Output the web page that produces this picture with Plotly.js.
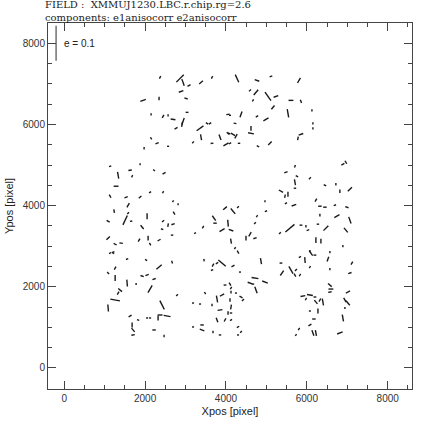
<!DOCTYPE html>
<html>
<head>
<meta charset="utf-8">
<script src="https://cdn.plot.ly/plotly-3.0.1.min.js"></script>
<style>
  html, body { margin: 0; padding: 0; background: #fff; }
  #chart { width: 436px; height: 436px; }
</style>
</head>
<body>
<div id="chart"></div>
<script>
// stick positions (pixel coords on the chip mosaic)
const xpos = [
  2371,2865,2939,3087,3384,3656,2890,3013,1951,2346,2149,2445,2569,2692,2939,2915,3038,2766,3359,3532,3606,4051,2149,2297,2569,1976,3186,3384,3656,3853,4001,4051,
  4273,4767,5113,5805,4594,4742,5039,5236,4668,5607,5854,5162,5533,6126,4372,4100,4767,4989,4224,6150,6150,4174,4248,4076,4619,4619,5854,5780,4100,4323,4792,5088,
  1136,1877,1334,1630,2223,2470,1680,1284,1136,1531,1877,2124,2445,1581,1235,1581,1507,1087,1655,2050,1927,2445,2569,2692,2421,2717,2692,2816,1087,1260,1408,1852,2075,2346,2668,2124,3236,3433,3705,3730,3903,3977,4051,1210,
  5706,5483,5755,6076,5706,5706,5360,5533,5459,5483,5681,6447,6718,6817,7064,6891,6965,6224,6323,6447,6694,6990,6323,6743,7064,4174,4298,4965,4989,4767,4718,4125,4594,4495,4718,5335,5582,5854,5977,6027,6274,6471,6965,4125,4224,6224,6348,6891,6076,
  1136,1210,1556,2025,2346,2668,1087,1260,1260,1556,1927,2050,2223,1778,1383,1334,2124,1260,1087,2791,2421,2371,2544,2322,1630,1828,2050,2124,1680,1704,2223,2470,1704,3458,3680,3779,3903,3656,3483,3779,3903,3977,3186,3359,3656,3853,3779,3977,3409,3409,3186,3680,3853,4051,
  4298,4174,4347,4866,5360,5829,5953,6101,6200,6076,5730,5706,5829,5607,5385,6570,6521,6570,7114,7064,4718,4965,4594,4668,4742,4100,4125,4125,4248,4372,4421,4100,4125,4125,4125,5903,6076,6200,5977,6224,6323,6397,6076,6274,6570,6595,6570,7015,6941,7015,6941,6891,6175,6076,5805,5730,6150,6224,6817,4298,4372,4298
];
const ypos = [
  7159,7134,7036,6962,7036,7159,6814,6642,6593,6642,6248,6199,6224,6125,6076,6002,6298,5904,5904,6027,6027,6248,5658,5535,5461,5412,5560,5683,5535,5683,5510,5781,
  7134,7085,7183,7085,6839,6790,6691,6691,6593,6593,6568,6421,6273,6347,6248,6224,6199,6125,6027,6027,5904,5756,5707,5781,5904,5781,5756,5658,5535,5535,5461,5535,
  4969,5018,4748,4871,4871,4797,4723,4477,4231,4207,4207,4330,4330,4010,3862,3813,3641,3616,3616,3739,3469,3616,3518,3542,3419,3813,4108,4034,3198,3050,3075,3149,3198,3149,3272,3050,3321,3469,3690,3567,3395,3936,3567,2854,
  4969,4822,4723,4674,4576,4428,4354,4280,4231,4059,4010,4502,4526,4354,4403,5018,5068,4133,3985,3961,4010,3961,3764,3739,3641,3862,3961,4108,3862,3739,3567,3395,3296,3198,3198,3321,3444,3518,3493,3395,3542,3444,3395,3124,2952,3149,3124,3001,2878,
  2829,2829,2681,2657,2485,2608,2337,2460,2214,2091,2263,2288,2189,2066,1919,1845,1943,1673,1476,1796,1550,1304,1279,1230,1279,1181,1230,1230,1058,935,935,787,812,2657,2534,2583,2583,2411,1845,1697,1796,2042,1599,1574,1550,1427,1181,1181,1058,935,1009,886,812,1353,
  2854,2509,2362,2632,2583,2731,2657,2829,2780,2485,2411,2288,2288,2411,2337,2854,2681,2435,2583,2337,2214,2116,2091,2066,1919,2066,1968,1870,1845,1747,1673,1673,1501,1353,1181,1771,1796,1747,1697,1624,1673,1624,1402,1402,2042,1943,1870,1870,1673,1599,1476,1230,1205,1058,959,812,861,861,861,1009,886,812
];
// ellipticity modulus and orientation (deg) from e1anisocorr / e2anisocorr
const emod = [
  .008,.03,.02,.01,.014,.008,.014,.01,.017,.01,.007,.01,.007,.014,.02,.014,.008,.01,.024,.008,.008,.01,.007,.01,.006,.007,.007,.017,.008,.017,.017,.01,
  .024,.014,.008,.017,.008,.02,.03,.014,.007,.014,.01,.014,.024,.007,.017,.006,.008,.017,.008,.006,.006,.014,.014,.008,.014,.017,.014,.01,.008,.007,.008,.014,
  .007,.006,.02,.01,.007,.01,.007,.014,.01,.01,.01,.007,.007,.014,.01,.007,.03,.01,.007,.017,.014,.008,.01,.01,.007,.01,.006,.006,.014,.01,.01,.01,.014,.01,.007,.008,.006,.008,.017,.01,.017,.014,.02,.008,
  .008,.01,.008,.008,.017,.007,.014,.014,.01,.007,.014,.008,.007,.01,.017,.01,.01,.01,.01,.01,.007,.01,.008,.017,.02,.02,.007,.006,.007,.007,.007,.014,.014,.014,.01,.007,.034,.008,.007,.008,.007,.02,.017,.014,.007,.017,.014,.006,.006,
  .007,.007,.007,.007,.02,.008,.008,.01,.017,.02,.01,.01,.01,.006,.014,.01,.024,.028,.02,.007,.028,.014,.02,.014,.01,.007,.006,.006,.014,.014,.01,.007,.01,.007,.01,.008,.028,.007,.007,.02,.014,.008,.006,.006,.007,.014,.014,.01,.01,.014,.006,.007,.007,.01,
  .01,.01,.006,.017,.008,.007,.017,.017,.008,.007,.008,.01,.008,.024,.017,.006,.014,.007,.01,.01,.02,.017,.014,.007,.02,.01,.008,.008,.006,.01,.008,.01,.014,.007,.007,.014,.017,.008,.008,.014,.01,.02,.006,.014,.014,.014,.01,.014,.014,.017,.006,.02,.01,.01,.008,.006,.017,.017,.017,.008,.007,.006
];
const theta = [
  60,45,110,30,40,60,20,160,20,90,90,60,90,170,70,80,0,30,35,150,30,10,120,20,0,90,45,100,10,110,30,140,
  115,160,20,60,45,50,125,20,60,0,110,50,100,90,70,0,30,30,170,90,90,150,60,160,90,170,20,80,30,0,150,45,
  20,90,100,10,135,30,60,0,120,20,40,30,60,60,100,45,65,150,10,90,130,40,80,20,160,120,60,90,45,150,170,60,90,30,0,120,30,60,125,0,30,40,95,20,
  70,20,150,45,100,0,150,90,80,30,20,150,90,90,45,30,120,60,0,0,20,160,90,30,110,130,45,90,20,60,45,160,60,90,20,45,40,0,90,20,0,45,130,100,60,90,90,90,90,
  30,150,20,150,40,110,130,60,90,95,160,20,20,90,140,60,60,170,95,45,117,0,170,90,30,160,0,0,90,130,0,90,10,100,60,30,140,20,120,100,30,0,0,0,90,10,110,60,0,160,0,90,0,90,
  120,30,0,100,0,30,95,125,0,60,45,120,60,120,55,90,70,90,60,20,170,160,160,0,110,120,60,90,0,150,45,90,80,0,30,10,170,0,60,130,60,100,0,90,140,0,10,30,120,130,90,100,0,30,60,45,110,100,20,30,45,0
];

// reference stick
const refX = [-200];
const refY = [8000];
const refE = [0.1];
const refTheta = [90];

const SCALE = 8600; // pixels per unit ellipticity

function sticks(xs, ys, es, ts) {
  const sx = [], sy = [];
  for (let i = 0; i < xs.length; i++) {
    const h = es[i] * SCALE / 2;
    const t = ts[i] * Math.PI / 180;
    sx.push(xs[i] - h * Math.cos(t), xs[i] + h * Math.cos(t), null);
    sy.push(ys[i] - h * Math.sin(t), ys[i] + h * Math.sin(t), null);
  }
  return {x: sx, y: sy};
}

const s = sticks(xpos, ypos, emod, theta);
const r = sticks(refX, refY, refE, refTheta);

const traces = [{
  x: s.x, y: s.y,
  type: 'scatter', mode: 'lines',
  line: {color: '#1a1a1a', width: 1.4},
  hoverinfo: 'skip'
}, {
  x: r.x, y: r.y,
  type: 'scatter', mode: 'lines',
  line: {color: '#666', width: 1.4},
  hoverinfo: 'skip'
}];

const axisCommon = {
  ticks: 'inside', ticklen: 8, tickwidth: 1, tickcolor: '#444',
  showline: true, linecolor: '#444', linewidth: 1, mirror: 'ticks',
  showgrid: false, zeroline: false,
  tickfont: {family: 'Liberation Sans, Arial, sans-serif', size: 10, color: '#333'},
  minor: {dtick: 500, ticks: 'inside', ticklen: 4, tickcolor: '#444', showgrid: false}
};

const layout = {
  width: 436, height: 436,
  margin: {l: 48, r: 24, t: 23, b: 47},
  paper_bgcolor: '#fff', plot_bgcolor: '#fff',
  showlegend: false,
  xaxis: Object.assign({}, axisCommon, {
    range: [-400, 8600],
    tickvals: [0, 2000, 4000, 6000, 8000],
    title: {text: 'Xpos [pixel]', standoff: 4,
      font: {family: 'Liberation Sans, Arial, sans-serif', size: 11, color: '#222'}}
  }),
  yaxis: Object.assign({}, axisCommon, {
    range: [-520, 8500],
    tickvals: [0, 2000, 4000, 6000, 8000],
    title: {text: 'Ypos [pixel]', standoff: 6,
      font: {family: 'Liberation Sans, Arial, sans-serif', size: 11, color: '#222'}}
  }),
  annotations: [{
    text: 'FIELD :  XMMUJ1230.LBC.r.chip.rg=2.6',
    xref: 'paper', yref: 'paper', x: -0.015, y: 1.051,
    xanchor: 'left', yanchor: 'middle', showarrow: false,
    font: {family: 'DejaVu Serif, serif', size: 10, color: '#222'}
  }, {
    text: 'components: e1anisocorr e2anisocorr',
    xref: 'paper', yref: 'paper', x: -0.015, y: 1.016,
    xanchor: 'left', yanchor: 'middle', showarrow: false,
    font: {family: 'DejaVu Serif, serif', size: 10, color: '#222'}
  }, {
    text: 'e = 0.1',
    xref: 'x', yref: 'y', x: -60, y: 8000,
    xanchor: 'left', yanchor: 'middle', showarrow: false,
    font: {family: 'Liberation Sans, Arial, sans-serif', size: 10, color: '#222'}
  }]
};

Plotly.newPlot('chart', traces, layout, {displayModeBar: false, staticPlot: true});
</script>
</body>
</html>
